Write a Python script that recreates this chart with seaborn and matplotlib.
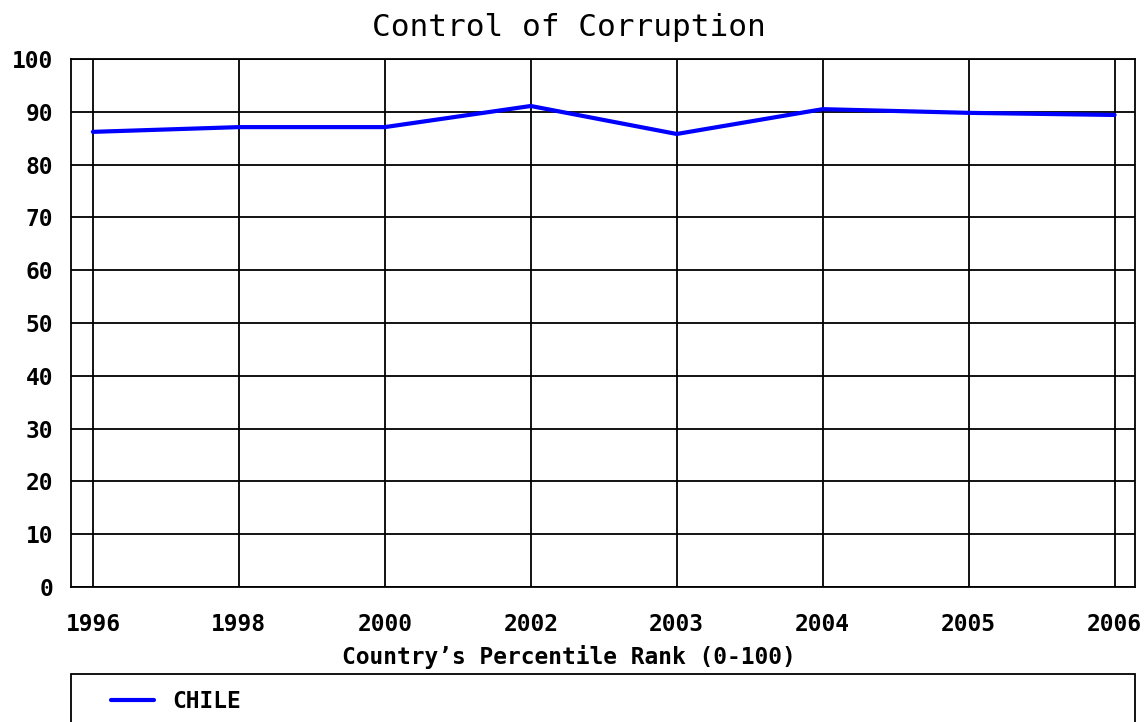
import matplotlib
matplotlib.use("Agg")
import matplotlib.pyplot as plt
from matplotlib.patches import Rectangle
import seaborn as sns
import pandas as pd

years = ["1996", "1998", "2000", "2002", "2003", "2004", "2005", "2006"]
chile = [86.2, 87.1, 87.1, 91.1, 85.8, 90.5, 89.8, 89.4]
yticks = [0, 10, 20, 30, 40, 50, 60, 70, 80, 90, 100]

sns.set_theme(style="white")
plt.rcParams["font.family"] = ["DejaVu Sans Mono", "DejaVu Sans"]

W, H = 1144, 722
fig = plt.figure(figsize=(W / 100, H / 100), dpi=100)
ax = fig.add_axes([71 / W, 1 - 587 / H, (1135 - 71) / W, (587 - 59) / H])

df = pd.DataFrame({"Year": years, "Value": chile, "Country": "CHILE"})
sns.lineplot(data=df, x="Year", y="Value", hue="Country", palette=["#0000ff"],
             linewidth=3, ax=ax, legend=True, sort=False)

ax.set_xlim(-0.15, 7.14)
ax.set_ylim(0, 100)
ax.set_yticks(yticks)
ax.set_xticks(range(len(years)))
ax.set_xticklabels(years)
ax.grid(True, color="black", linewidth=1.3)
ax.set_axisbelow(True)
for s in ax.spines.values():
    s.set_visible(True)
    s.set_color("black")
    s.set_linewidth(1.3)

fs = 16.5
ax.tick_params(axis="both", length=0, labelsize=fs, colors="black")
ax.tick_params(axis="y", pad=13)
ax.tick_params(axis="x", pad=19)
for lab in ax.get_xticklabels() + ax.get_yticklabels():
    lab.set_fontweight("bold")

ax.set_ylabel("")
ax.set_xlabel("Country\u2019s Percentile Rank (0-100)", fontsize=fs,
              fontweight="bold", color="black", labelpad=6)
ax.xaxis.label.set_x((569 - 71) / (1135 - 71))
fig.text(0.497, 1 - 28 / H, "Control of Corruption", ha="center", va="center",
         fontsize=22.4, color="black")

# legend box frame (spans the full axes width, runs past the bottom edge)
fig.patches.append(Rectangle((71 / W, 1 - 740 / H), (1135 - 71) / W, (740 - 674) / H,
                             transform=fig.transFigure, facecolor="none",
                             edgecolor="black", linewidth=1.3, zorder=-1))

leg = ax.legend(loc="center left",
                bbox_to_anchor=(104 / W, 1 - 702 / H),
                bbox_transform=fig.transFigure, borderaxespad=0,
                frameon=False, handlelength=1.9, handletextpad=0.8,
                borderpad=0.3, prop={"weight": "bold", "size": fs})
leg.set_title(None)
leg.set_zorder(10)
for t in leg.get_texts():
    t.set_color("black")

fig.savefig("out.png", dpi=100)
